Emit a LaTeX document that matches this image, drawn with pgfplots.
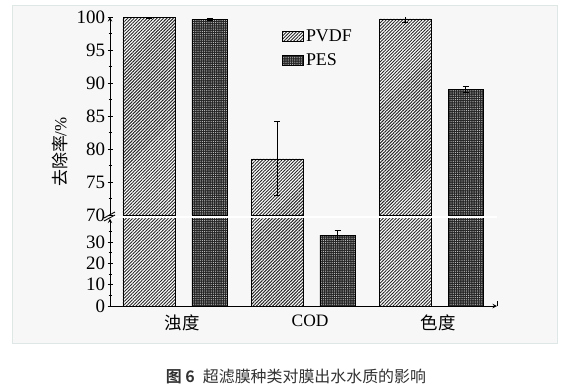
\documentclass[border=0pt]{standalone}
\usepackage{pgfplots}
\pgfplotsset{compat=1.18}
\usepackage{fontspec}
\setmainfont{Liberation Serif}
\newfontfamily\cjk{Noto Sans CJK SC}
\newfontfamily\cjkb{Noto Sans CJK SC Bold}
\usetikzlibrary{patterns.meta}
\definecolor{panelbg}{RGB}{247,247,247}
\definecolor{panelborder}{RGB}{222,230,230}
\definecolor{captxt}{RGB}{50,50,50}

\pgfplotsset{
  common/.style={
    scale only axis,
    width=387bp,
    xmin=0.4375, xmax=3.46,
    clip=true,
    tick align=inside,
    major tick length=5bp,
    minor tick length=3bp,
    axis line style={-, line width=1bp},
    every tick/.style={black, line width=0.9bp},
    tick label style={font=\fontsize{19}{21}\selectfont},
    /pgf/number format/assume math mode=true,
    yticklabel style={xshift=1bp},
    ybar, bar width=0.406,
  },
  pvdf/.style={draw=black, line width=0.8bp, fill=white,
    postaction={pattern={Lines[angle=45,distance=2.3bp,line width=0.95bp]}, pattern color=black!85},
    bar width=0.406, bar shift=0pt},
  pes/.style={draw=black, line width=0.8bp, fill=black!85,
    postaction={pattern={Dots[distance=2.2bp,radius=0.6bp]}, pattern color=white!80!black},
    bar width=0.277, bar shift=0pt},
  errb/.style={error bars/.cd, y dir=both, y explicit,
    error bar style={black, line width=0.8bp},
    error mark options={rotate=90, mark size=3bp, black, line width=0.9bp}},
}

\pgfplotstableread{
x      y     e
0.742  99.9  0.05
1.742  78.5  5.6
2.742  99.7  0.45
}\pvdfdata
\pgfplotstableread{
x      y     e
1.216  99.65 0.1
2.216  33.2  2.1
3.216  89.0  0.5
}\pesdata

\begin{document}
\begin{tikzpicture}
\path[fill=white] (0bp,0bp) rectangle (571bp,-390bp);
\path[fill=panelbg, draw=panelborder, line width=1bp] (12bp,-5bp) rectangle (557bp,-343bp);

% bottom part
\begin{axis}[common,
  at={(110bp,-306bp)}, anchor=south west,
  height=87.5bp,
  ymin=0, ymax=41,
  axis x line=bottom, axis y line=left,
  ytick={0,10,20,30}, minor ytick={5,15,25,35},
  xtick={1,2,3},
  xticklabels={{\cjk 浊度},COD,{\cjk 色度}},
  xticklabel style={font=\fontsize{17.5}{19}\selectfont, yshift=-3bp},
  x tick style={draw=none},
]
\addplot[pvdf] table[x=x,y=y] {\pvdfdata};
\addplot[pes, errb] table[x=x,y=y,y error=e] {\pesdata};
\end{axis}

% top part
\begin{axis}[common,
  at={(110bp,-215bp)}, anchor=south west,
  height=198bp,
  ymin=70, ymax=100,
  axis x line=none, axis y line=left,
  ytick={70,75,...,100}, minor tick num=1,
  legend style={draw=none, fill=none, at={(0.445,0.947)}, anchor=north west,
    inner sep=0pt, row sep=7bp, font=\fontsize{18}{20}\selectfont,
    cells={anchor=west}},
  legend image code/.code={\draw[#1, line width=0.6bp] (0bp,-5bp) rectangle (21bp,5bp);},
]
\addplot[pvdf, errb] table[x=x,y=y,y error=e] {\pvdfdata};
\addlegendentry{PVDF}
\addplot[restrict y to domain=60:110, pes, errb] table[x=x,y=y,y error=e] {\pesdata};
\addlegendentry{PES}
\end{axis}

% right end tick of x axis
\draw[black, line width=0.9bp] (497bp,-306bp) -- (497bp,-301bp);

% break
\fill[white] (109.5bp,-215.6bp) rectangle (497bp,-218.4bp);
\draw[black, line width=0.9bp] (104bp,-218bp) -- (115bp,-212bp);
\draw[black, line width=0.9bp] (104bp,-221bp) -- (115bp,-215bp);

% y label
\node[rotate=90, font=\fontsize{17}{19}\selectfont] at (60bp,-152bp) {{\cjk 去除率}/\%};

% caption
\node[font=\fontsize{16}{18}\selectfont, text=captxt] at (296bp,-376bp)
  {{\cjkb 图 6}\hspace{8bp}{\cjk 超滤膜种类对膜出水水质的影响}};
\end{tikzpicture}
\end{document}
